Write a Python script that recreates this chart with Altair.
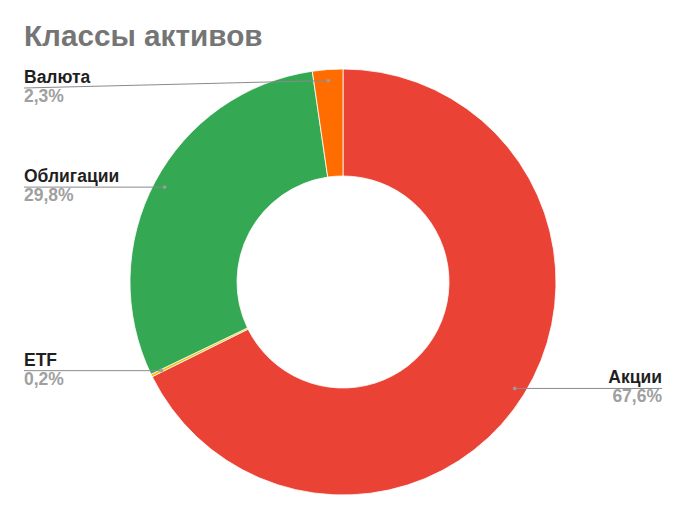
import altair as alt
import pandas as pd

categories = ["Акции", "ETF", "Облигации", "Валюта"]
values = [67.6, 0.2, 29.8, 2.3]
colors = ["#ea4335", "#fbbc04", "#34a853", "#ff6d01"]
title_text = "Классы активов"

df = pd.DataFrame({"cat": categories, "val": values, "idx": list(range(len(values)))})

CX, CY = 335, 274
R_OUT, R_IN, R_DOT = 213, 106, 202
LEFT_X, RIGHT_X, MIN_Y = 16, 654, 80
FONT = "Liberation Sans"
LABEL_SIZE = 17.5

base = alt.Chart(df)

arcs = base.mark_arc(outerRadius=R_OUT, innerRadius=R_IN, stroke="white", strokeWidth=0.8).encode(
    theta=alt.Theta("val:Q", stack=True),
    order=alt.Order("idx:Q"),
    color=alt.Color("cat:N", scale=alt.Scale(domain=categories, range=colors), legend=None),
    x=alt.value(CX),
    y=alt.value(CY),
)

geo = base.transform_window(
    cum="sum(val)", sort=[alt.SortField("idx")], frame=[None, 0]
).transform_joinaggregate(
    total="sum(val)"
).transform_calculate(
    ang="(datum.cum - datum.val/2)/datum.total*2*PI",
).transform_calculate(
    px=f"{CX}+{R_DOT}*sin(datum.ang)",
    py=f"{CY}-{R_DOT}*cos(datum.ang)",
).transform_calculate(
    side=f"datum.px < {CX} ? 'left' : 'right'",
    lx=f"datum.px < {CX} ? {LEFT_X} : {RIGHT_X}",
    ly=f"max(datum.py, {MIN_Y})",
    pct="replace(format(datum.val, '.1f'), '.', ',') + '%'",
).transform_calculate(
    ny="datum.ly - 5",
    vy="datum.ly + 14",
)

rules = geo.mark_rule(color="#8a8a8a", strokeWidth=1).encode(
    x=alt.X("px:Q", scale=None), y=alt.Y("py:Q", scale=None),
    x2="lx:Q", y2="ly:Q",
)
dots = geo.mark_circle(color="#9e9e9e", size=14, opacity=0.9).encode(
    x=alt.X("px:Q", scale=None), y=alt.Y("py:Q", scale=None),
)

def labels(side, align):
    g = geo.transform_filter(f"datum.side == '{side}'")
    name = g.mark_text(align=align, baseline="alphabetic", font=FONT, fontSize=LABEL_SIZE,
                       fontWeight="bold", color="#1f1f1f").encode(
        x=alt.X("lx:Q", scale=None), y=alt.Y("ny:Q", scale=None), text="cat:N")
    val = g.mark_text(align=align, baseline="alphabetic", font=FONT, fontSize=LABEL_SIZE,
                      fontWeight="bold", color="#a0a0a0").encode(
        x=alt.X("lx:Q", scale=None), y=alt.Y("vy:Q", scale=None), text="pct:N")
    return [name, val]

title = alt.Chart(pd.DataFrame({"t": [title_text]})).mark_text(
    align="left", baseline="alphabetic", font=FONT, fontSize=29.7, fontWeight="bold", color="#757575"
).encode(x=alt.value(16), y=alt.value(38), text="t:N")

chart = alt.layer(arcs, rules, dots, *labels("left", "left"), *labels("right", "right"), title).properties(
    width=665, height=494, padding=0, autosize="none"
).configure_view(stroke=None)

chart.save("out.html", embed_options={"renderer": "svg", "actions": False})
